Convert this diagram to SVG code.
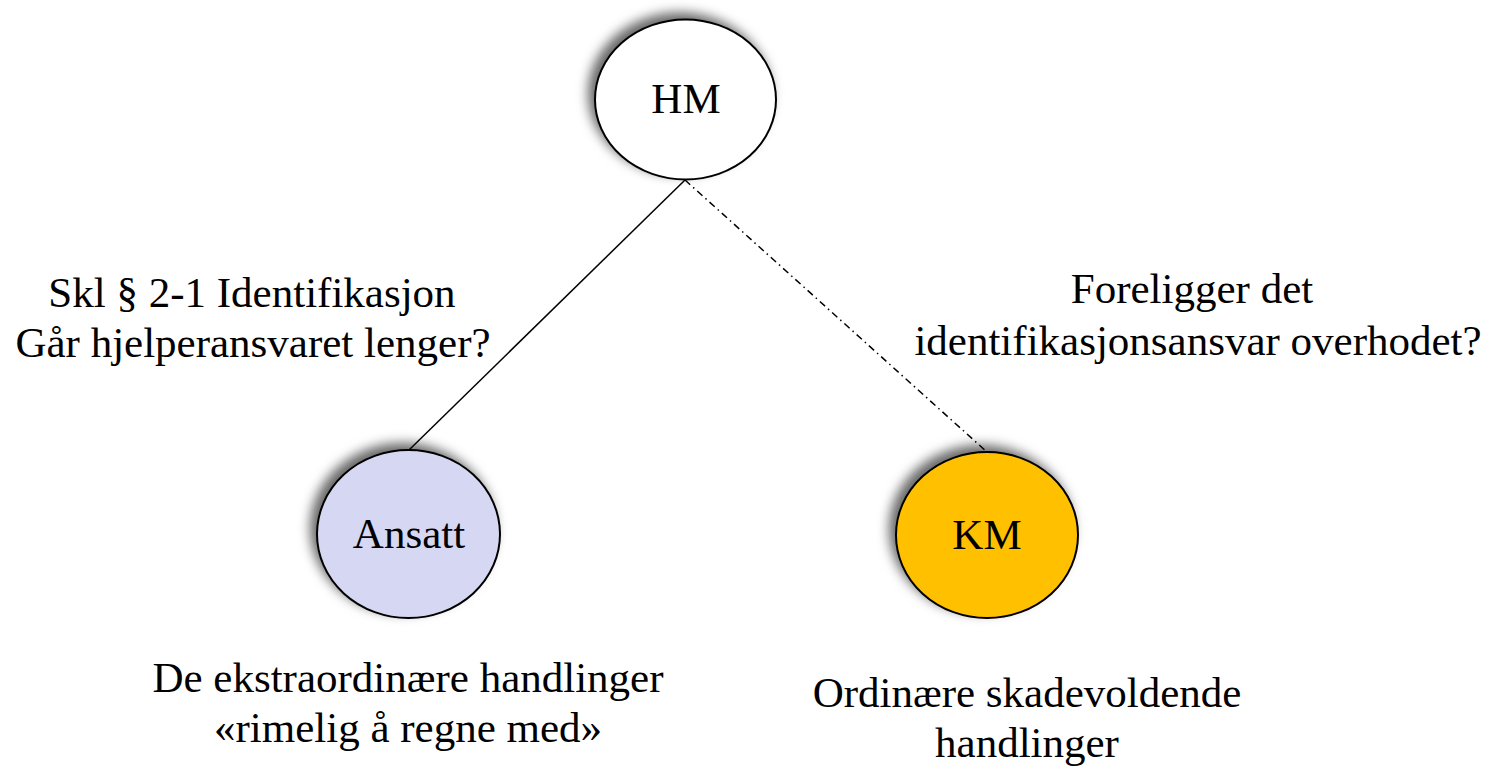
<svg xmlns="http://www.w3.org/2000/svg" width="1486" height="766" viewBox="0 0 1486 766">
<style>
text{font-family:"Liberation Serif","Times New Roman",serif;font-size:43px;fill:#000;text-anchor:middle}
.node ellipse{stroke:#000;stroke-width:2}
.conn line{stroke:#000;stroke-width:1.5;fill:none}
</style>
<defs>
<filter id="sh" x="-30%" y="-30%" width="160%" height="160%">
<feDropShadow dx="-6" dy="-6" stdDeviation="6" flood-color="#000" flood-opacity="0.6"/>
</filter>
</defs>
<rect width="1486" height="766" fill="#fff"/>
<g id="connectors" class="conn">
<line x1="685" y1="180" x2="408" y2="451"/>
<line x1="685" y1="180" x2="987" y2="452" stroke-dasharray="7 4 1.5 4"/>
</g>
<g id="node-hm" class="node">
<ellipse cx="685.5" cy="99.5" rx="90.5" ry="80" fill="#fff" filter="url(#sh)"/>
<text x="686" y="113">HM</text>
</g>
<g id="node-ansatt" class="node">
<ellipse cx="408.5" cy="534" rx="91.5" ry="84" fill="#d6d7f3" filter="url(#sh)"/>
<text x="409" y="548">Ansatt</text>
</g>
<g id="node-km" class="node">
<ellipse cx="987" cy="535" rx="91" ry="83" fill="#ffc000" filter="url(#sh)"/>
<text x="987" y="549">KM</text>
</g>
<g id="labels">
<text x="252" y="307">Skl § 2-1 Identifikasjon</text>
<text x="253" y="357">Går hjelperansvaret lenger?</text>
<text x="1192" y="303">Foreligger det</text>
<text x="1198" y="355">identifikasjonsansvar overhodet?</text>
<text x="408" y="692">De ekstraordinære handlinger</text>
<text x="408" y="742">«rimelig å regne med»</text>
<text x="1027" y="707">Ordinære skadevoldende</text>
<text x="1027" y="757">handlinger</text>
</g>
</svg>
